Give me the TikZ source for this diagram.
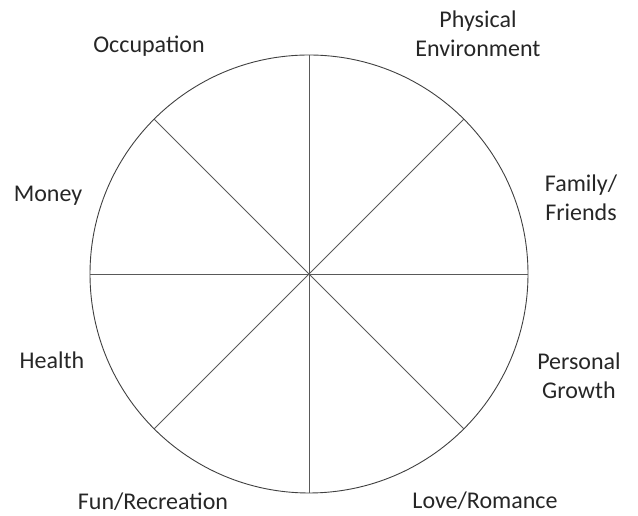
\documentclass[tikz,border=0pt]{standalone}
\usepackage{fontspec}
\setmainfont{Carlito}
\usetikzlibrary{positioning}

\begin{document}
\begin{tikzpicture}[
    x=1pt, y=1pt,
    rim/.style={circle, draw=black!75, line width=0.9pt, inner sep=0pt, outer sep=0pt, minimum size=438pt},
    spoke/.style={draw=black!65, line width=0.8pt},
    area/.style={font=\fontsize{24}{29}\selectfont, text=black!85, align=center, inner sep=0pt},
]
\useasboundingbox (0,0) rectangle (638,516);

% ---- the wheel: rim and eight spokes ----
\node[rim] (wheel) at (309,242) {};
\foreach \ang in {0,45,...,315}
  \draw[spoke] (wheel.center) -- (wheel.\ang);

% ---- life areas around the rim ----
\node[area] (occupation) at (149,470) {Occupation};
\node[area] (physical) at (478,482) {Physical\\Environment};
\node[area] (money) at (48,320) {Money};
\node[area] (family) at (581,318) {Family/\\Friends};
\node[area] (health) at (52,156) {Health};
\node[area] (growth) at (579,140) {Personal\\Growth};
\node[area] (fun) at (153,14) {Fun/Recreation};
\node[area] (love) at (485,15) {Love/Romance};

\end{tikzpicture}
\end{document}
